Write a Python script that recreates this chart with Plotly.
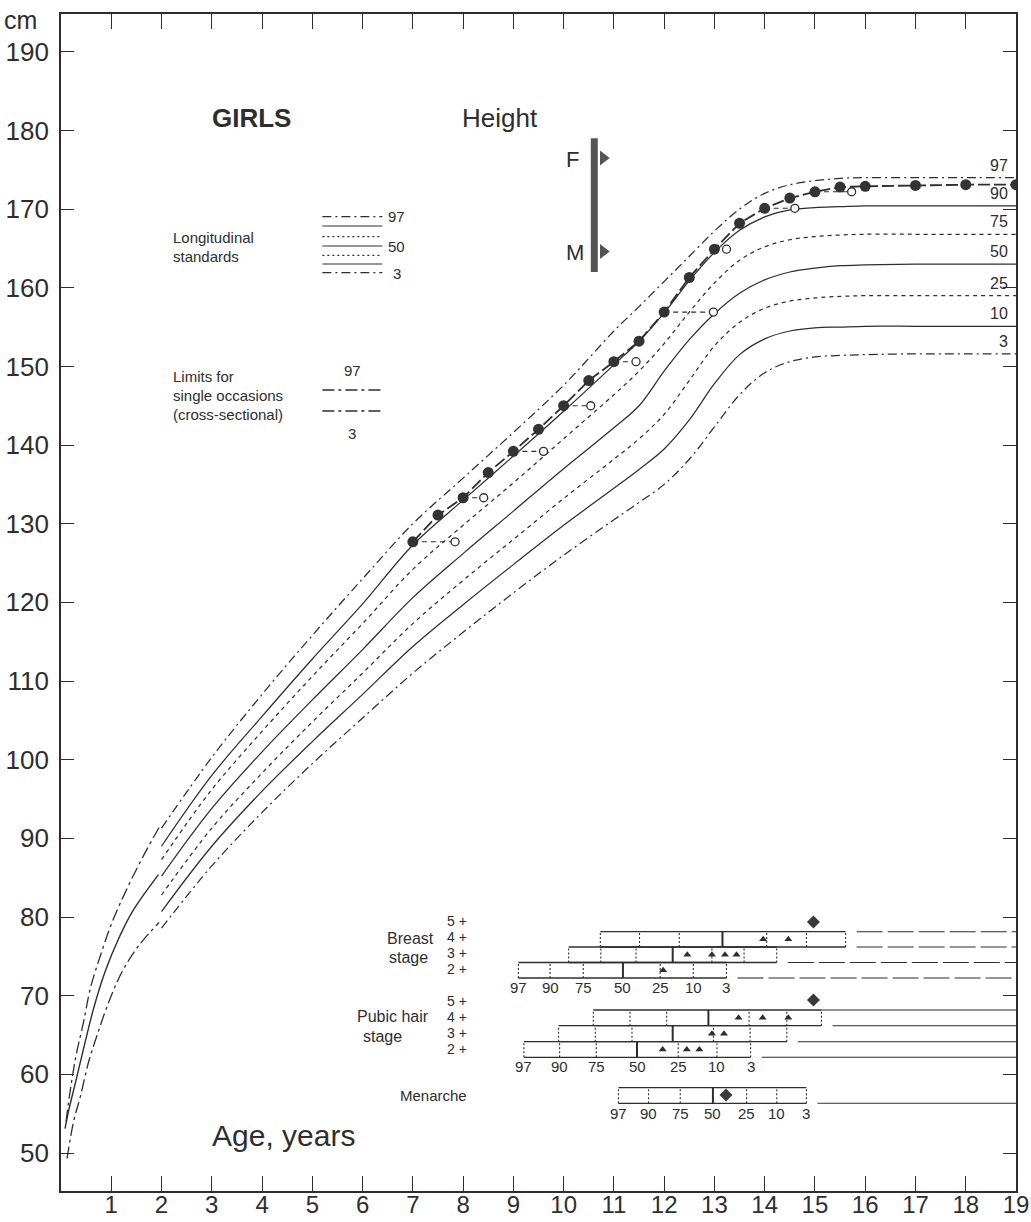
import plotly.graph_objects as go

# ------------------------------------------------------------------ data
# longitudinal standards (cm) from age 2
long_ages = [2, 3, 4, 5, 6, 7, 8, 9, 10, 11, 11.5, 12, 12.5, 13, 13.5, 14, 14.5, 15, 15.5, 16, 17, 18, 19]
p97 = [91.3, 100.3, 108.3, 115.8, 123.0, 130.0, 135.8, 141.6, 147.6, 154.5, 157.6, 160.8, 164.0, 167.2, 170.0, 172.0, 173.1, 173.6, 173.9, 174.0, 174.0, 174.0, 174.0]
p90 = [89.0, 98.0, 105.5, 112.8, 119.8, 127.3, 133.0, 138.6, 144.3, 150.2, 153.2, 156.8, 160.9, 164.5, 167.3, 169.0, 169.9, 170.2, 170.3, 170.4, 170.4, 170.4, 170.4]
p75 = [87.3, 96.2, 103.6, 110.6, 117.3, 124.2, 129.8, 135.2, 140.8, 146.4, 149.4, 152.9, 156.9, 160.6, 163.5, 165.2, 166.1, 166.5, 166.7, 166.8, 166.8, 166.8, 166.8]
p50 = [85.2, 93.8, 101.0, 107.6, 114.0, 120.6, 126.2, 131.6, 137.0, 142.2, 145.0, 149.4, 153.4, 156.7, 159.3, 161.0, 162.0, 162.5, 162.8, 162.9, 163.0, 163.0, 163.0]
p25 = [82.8, 91.3, 98.3, 104.8, 111.0, 117.3, 122.8, 128.0, 133.2, 138.2, 140.8, 143.9, 148.2, 152.6, 155.6, 157.4, 158.3, 158.7, 158.9, 159.0, 159.0, 159.0, 159.0]
p10 = [80.7, 89.0, 96.0, 102.3, 108.3, 114.4, 119.7, 124.8, 129.8, 134.5, 136.9, 139.5, 143.2, 147.8, 151.5, 153.5, 154.5, 154.9, 155.0, 155.1, 155.1, 155.1, 155.1]
p3 = [78.6, 86.5, 93.3, 99.5, 105.3, 111.0, 116.2, 121.2, 126.0, 130.5, 132.7, 135.0, 138.2, 142.3, 146.4, 149.2, 150.6, 151.2, 151.4, 151.5, 151.6, 151.6, 151.6]
pct_names = ["97", "90", "75", "50", "25", "10", "3"]

# cross-sectional limits 0-2 years
cs97_age = [0.10, 0.19, 0.30, 0.45, 0.59, 0.79, 1.02, 1.32, 1.65, 1.97]
cs97 = [54.0, 58.2, 62.4, 66.7, 71.1, 75.2, 79.4, 83.7, 87.9, 91.6]
cs50_age = [0.08, 0.16, 0.29, 0.45, 0.65, 0.88, 1.15, 1.42, 1.94]
cs50 = [53.1, 55.6, 59.0, 63.3, 68.4, 73.1, 77.3, 80.7, 85.4]
cs3_age = [0.12, 0.25, 0.39, 0.55, 0.72, 0.95, 1.22, 1.55, 1.95]
cs3 = [49.3, 54.0, 57.3, 61.6, 65.0, 69.2, 73.1, 76.4, 79.3]

# the girl's measurements
obs_age = [7, 7.5, 8, 8.5, 9, 9.5, 10, 10.5, 11, 11.5, 12, 12.5, 13, 13.5, 14, 14.5, 15, 15.5, 16, 17, 18, 19]
obs_height = [127.7, 131.1, 133.3, 136.5, 139.2, 142.0, 145.0, 148.2, 150.6, 153.2, 156.9, 161.3, 164.9, 168.2, 170.1, 171.4, 172.2, 172.8, 172.9, 173.0, 173.1, 173.1]
# bone-age points
ba_chrono = [7, 8, 9, 10, 11, 12, 13, 14, 15]
ba_age = [7.84, 8.41, 9.60, 10.54, 11.44, 12.98, 13.24, 14.60, 15.73]

# parents
father_h = 176.5
mother_h = 164.6
target_range = [162.0, 179.0]
parent_bar_age = 10.61

# puberty standards: ages at percentiles 97..3
breast2 = [9.10, 9.73, 10.39, 11.18, 11.92, 12.58, 13.24]
breast3 = [10.10, 10.74, 11.44, 12.17, 12.95, 13.59, 14.24]
breast4 = [10.73, 11.51, 12.30, 13.16, 14.04, 14.83, 15.61]
pubic2 = [9.21, 9.92, 10.65, 11.46, 12.28, 13.05, 13.72]
pubic3 = [9.90, 10.63, 11.36, 12.17, 12.98, 13.71, 14.44]
pubic4 = [10.59, 11.32, 12.05, 12.88, 13.69, 14.44, 15.13]
menarche = [11.09, 11.69, 12.32, 12.97, 13.64, 14.24, 14.83]

# girl's stage observations
obs_b2 = [11.98]
obs_b3 = [12.46, 12.95, 13.21, 13.44]
obs_b4 = [13.97, 14.47]
obs_b5 = [14.97]
obs_ph2 = [11.97, 12.45, 12.70]
obs_ph3 = [12.95, 13.19]
obs_ph4 = [13.48, 13.96, 14.47]
obs_ph5 = [14.97]
obs_men = [13.23]

# ------------------------------------------------------------------ layout helpers
INK = "#2e2e2e"
FONT = "Liberation Sans, Arial, sans-serif"
FIG_W, FIG_H = 1031, 1222
X0, X1 = 60.5, 1016.0         # plot edges in pixels
Y0, Y1 = 14.0, 1191.0
XMAX = 19.0
YLO, YHI = 45.17, 194.8


def ax(px):
    return (px - X0) / (X1 - X0) * XMAX


def ay(py):
    return YHI - (py - Y0) / (Y1 - Y0) * (YHI - YLO)


def paper_x(px):
    return (px - X0) / (X1 - X0)


def paper_y(py):
    return (Y1 - py) / (Y1 - Y0)


fig = go.Figure()
annotations = []
shapes = []


def txt(px, py, s, size=15, anchor="center", bold=False):
    annotations.append(dict(
        x=ax(px), y=ay(py), xref="x", yref="y", text=("<b>%s</b>" % s) if bold else s,
        showarrow=False, xanchor=anchor, yanchor="middle",
        font=dict(size=size, family=FONT, color=INK)))


def line(xs, ys, dash="solid", width=1.2, color=INK, shape="linear"):
    fig.add_trace(go.Scatter(x=xs, y=ys, mode="lines", hoverinfo="skip",
                             line=dict(color=color, width=width, dash=dash, shape=shape)))


DASHDOT = "9px,4px,2px,4px"
CSDASHDOT = "12px,4px,3px,4px"
DOTTED = "4px,4px"

# ------------------------------------------------------------------ cross-sectional 0-2
line(cs97_age, cs97, CSDASHDOT, 1.3, shape="spline")
line(cs50_age, cs50, "solid", 1.4, shape="spline")
line(cs3_age, cs3, CSDASHDOT, 1.3, shape="spline")

# ------------------------------------------------------------------ longitudinal standards
curves = [p97, p90, p75, p50, p25, p10, p3]
styles = [DASHDOT, "solid", DOTTED, "solid", DOTTED, "solid", DASHDOT]
for vals, st in zip(curves, styles):
    line(long_ages, vals, st, 1.25, shape="spline")

for name, vals in zip(pct_names, curves):
    annotations.append(dict(x=ax(1010), y=vals[-1], xref="x", yref="y", text=name,
                            showarrow=False, xanchor="right", yanchor="bottom", yshift=2,
                            font=dict(size=16, family=FONT, color=INK)))

# ------------------------------------------------------------------ bone age connectors
h_by_age = dict(zip(obs_age, obs_height))
for ca, ba in zip(ba_chrono, ba_age):
    line([ca, ba], [h_by_age[ca], h_by_age[ca]], "5px,4px", 1.1)
fig.add_trace(go.Scatter(x=ba_age, y=[h_by_age[c] for c in ba_chrono], mode="markers",
                         hoverinfo="skip",
                         marker=dict(symbol="circle", size=8, color="white",
                                     line=dict(color=INK, width=1.3))))

# ------------------------------------------------------------------ observed height
fig.add_trace(go.Scatter(x=obs_age, y=obs_height, mode="lines+markers", hoverinfo="skip",
                         line=dict(color=INK, width=1.8, dash="12px,4px"),
                         marker=dict(size=11, color="#333333")))

# ------------------------------------------------------------------ parents bar
line([parent_bar_age, parent_bar_age], target_range, "solid", 7, color="#555555")
fig.add_trace(go.Scatter(x=[ax(603), ax(603)], y=[father_h, mother_h], mode="markers",
                         hoverinfo="skip",
                         marker=dict(symbol="triangle-right", size=13, color="#555555")))
txt(572, 159, "F", 22)
txt(575, 252, "M", 22)

# ------------------------------------------------------------------ puberty boxes
BREAST_PY = [931.7, 947.0, 962.5, 978.0]
PUBIC_PY = [1010.0, 1025.7, 1041.7, 1057.3]
MEN_PY = [1087.7, 1103.3]
GAP = 0.22


def box(pcts, top_py, bot_py):
    top, bot = ay(top_py), ay(bot_py)
    line([pcts[0], pcts[-1]], [top, top], "solid", 1.3)
    line([pcts[0], pcts[-1]], [bot, bot], "solid", 1.3)
    xs, ys = [], []
    for i, a in enumerate(pcts):
        if i == 3:
            line([a, a], [bot, top], "solid", 2.0)
        else:
            xs += [a, a, None]
            ys += [bot, top, None]
    line(xs, ys, "2px,2px", 1.1)


def tri(ages, top_py, bot_py):
    yc = (ay(top_py) + ay(bot_py)) / 2
    fig.add_trace(go.Scatter(x=ages, y=[yc] * len(ages), mode="markers", hoverinfo="skip",
                             marker=dict(symbol="triangle-up", size=7, color=INK)))


def diamond(ages, py):
    fig.add_trace(go.Scatter(x=ages, y=[ay(py)] * len(ages), mode="markers", hoverinfo="skip",
                             marker=dict(symbol="diamond", size=10, color="#3a3a3a")))


def pct_labels(pcts, py):
    for a, n in zip(pcts, pct_names):
        annotations.append(dict(x=a, y=ay(py), xref="x", yref="y", text=n, showarrow=False,
                                xanchor="center", yanchor="middle",
                                font=dict(size=15, family=FONT, color=INK)))


# breast
box(breast4, BREAST_PY[0], BREAST_PY[1])
box(breast3, BREAST_PY[1], BREAST_PY[2])
box(breast2, BREAST_PY[2], BREAST_PY[3])
tri(obs_b4, BREAST_PY[0], BREAST_PY[1])
tri(obs_b3, BREAST_PY[1], BREAST_PY[2])
tri(obs_b2, BREAST_PY[2], BREAST_PY[3])
diamond(obs_b5, 922)
pct_labels(breast2, 987)
BRK = "26px,5px"
line([breast4[-1] + GAP, XMAX], [ay(BREAST_PY[0])] * 2, BRK, 1.1)
line([breast4[-1] + GAP, XMAX], [ay(BREAST_PY[1])] * 2, BRK, 1.1)
line([breast3[-1] + GAP, XMAX], [ay(BREAST_PY[2])] * 2, BRK, 1.1)
line([breast2[-1] + GAP, XMAX], [ay(BREAST_PY[3])] * 2, BRK, 1.1)

# pubic hair
box(pubic4, PUBIC_PY[0], PUBIC_PY[1])
box(pubic3, PUBIC_PY[1], PUBIC_PY[2])
box(pubic2, PUBIC_PY[2], PUBIC_PY[3])
tri(obs_ph4, PUBIC_PY[0], PUBIC_PY[1])
tri(obs_ph3, PUBIC_PY[1], PUBIC_PY[2])
tri(obs_ph2, PUBIC_PY[2], PUBIC_PY[3])
diamond(obs_ph5, 1000)
pct_labels(pubic2, 1066.7)
line([pubic4[-1], XMAX], [ay(PUBIC_PY[0])] * 2, "solid", 1.1)
line([pubic4[-1] + GAP, XMAX], [ay(PUBIC_PY[1])] * 2, "solid", 1.1)
line([pubic3[-1] + GAP, XMAX], [ay(PUBIC_PY[2])] * 2, "solid", 1.1)
line([pubic2[-1] + GAP, XMAX], [ay(PUBIC_PY[3])] * 2, "solid", 1.1)

# menarche
box(menarche, MEN_PY[0], MEN_PY[1])
diamond(obs_men, 1095)
pct_labels(menarche, 1113.3)
line([menarche[-1] + GAP, XMAX], [ay(MEN_PY[1])] * 2, "solid", 1.1)

# row labels
for py, s in zip([921, 937, 953, 969], ["5 +", "4 +", "3 +", "2 +"]):
    txt(457, py, s, 14)
for py, s in zip([1001, 1016.5, 1032.5, 1048.5], ["5 +", "4 +", "3 +", "2 +"]):
    txt(457, py, s, 14)
txt(436, 938, "Breast", 16, "right")
txt(387, 957, "stage", 16, "left")
txt(431, 1016, "Pubic hair", 16, "right")
txt(361, 1036, "stage", 16, "left")
txt(433, 1095, "Menarche", 15)

# ------------------------------------------------------------------ legend block
leg_y = [216.7, 226.0, 236.7, 246.0, 255.3, 264.0, 272.7]
leg_dash = [DASHDOT, "solid", "2px,3px", "solid", "2px,3px", "solid", DASHDOT]
for py, d in zip(leg_y, leg_dash):
    shapes.append(dict(type="line", xref="x", yref="y", x0=ax(322), x1=ax(382), y0=ay(py), y1=ay(py),
                       line=dict(color=INK, width=1.2, dash=d)))
txt(386, 216, "97", 15, "left")
txt(386, 246, "50", 15, "left")
txt(391, 273, "3", 15, "left")
txt(171, 237, "Longitudinal", 15, "left")
txt(171, 256, "standards", 15, "left")

for py in [390, 411]:
    shapes.append(dict(type="line", xref="x", yref="y", x0=ax(322), x1=ax(383), y0=ay(py), y1=ay(py),
                       line=dict(color=INK, width=1.3, dash=CSDASHDOT)))
txt(352, 370, "97", 15)
txt(352, 433, "3", 15)
txt(171, 376, "Limits for", 15, "left")
txt(171, 395, "single occasions", 15, "left")
txt(171, 414, "(cross-sectional)", 15, "left")

txt(251, 118, "GIRLS", 26, bold=True)
txt(500, 118, "Height", 26)
txt(283, 1135, "Age, years", 30)

annotations.append(dict(x=paper_x(20), y=paper_y(20), xref="paper", yref="paper", text="cm",
                        showarrow=False, xanchor="center", yanchor="middle",
                        font=dict(size=25, family=FONT, color=INK)))

# ------------------------------------------------------------------ layout
fig.update_layout(
    width=FIG_W, height=FIG_H,
    margin=dict(l=X0, r=FIG_W - X1, t=Y0, b=FIG_H - Y1, pad=0, autoexpand=False),
    paper_bgcolor="white", plot_bgcolor="white",
    showlegend=False,
    annotations=annotations, shapes=shapes,
    xaxis=dict(range=[0, XMAX], tickvals=list(range(1, 20)), ticktext=[str(i) for i in range(1, 20)],
               automargin=False,
               showgrid=False, zeroline=False, showline=True, linecolor=INK, linewidth=1.6,
               mirror="ticks", ticks="inside", ticklen=15, tickwidth=1.3, tickcolor=INK,
               tickfont=dict(size=24, family=FONT, color=INK), ticklabelstandoff=-9),
    yaxis=dict(range=[YLO, YHI], tickvals=list(range(50, 191, 10)),
               automargin=False,
               showgrid=False, zeroline=False, showline=True, linecolor=INK, linewidth=1.6,
               mirror="ticks", ticks="inside", ticklen=13, tickwidth=1.3, tickcolor=INK,
               tickfont=dict(size=26, family=FONT, color=INK), ticklabelstandoff=5),
)

fig.write_html("out.html")
